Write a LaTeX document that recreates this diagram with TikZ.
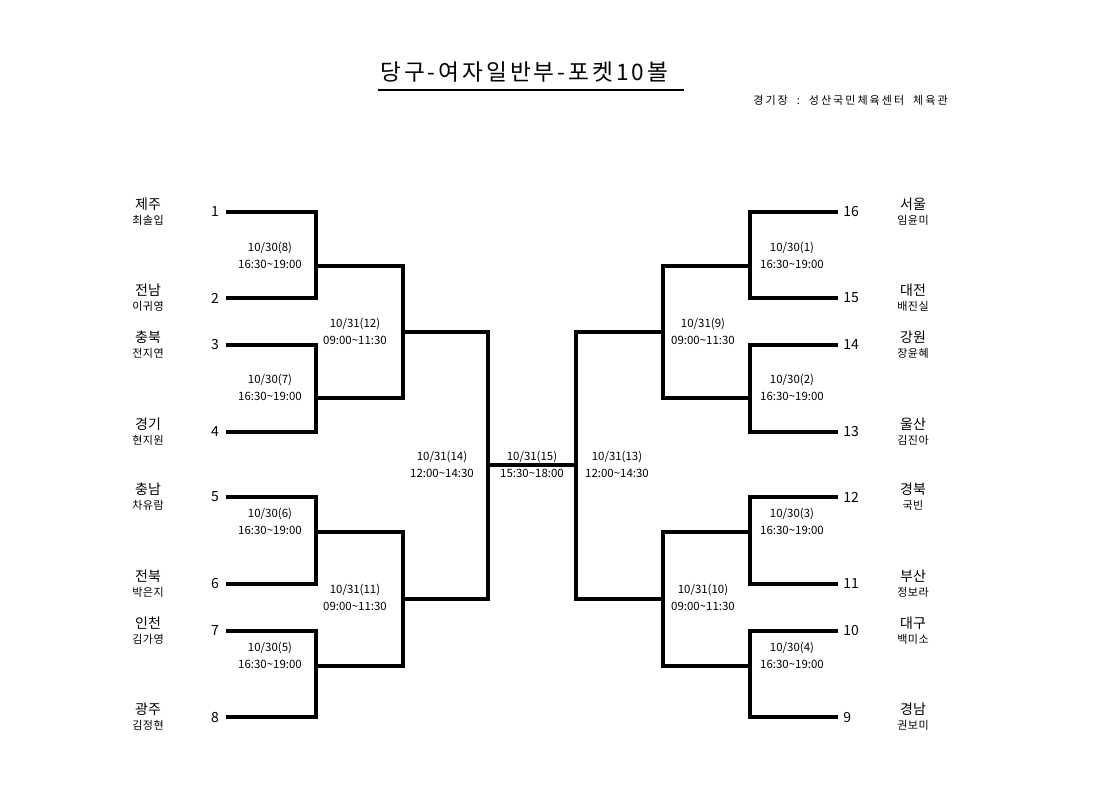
\documentclass[tikz,border=0pt]{standalone}
\usepackage{fontspec}
\setmainfont{Noto Sans CJK KR}
\begin{document}
\begin{tikzpicture}[x=0.75pt,y=-0.75pt,
  bk/.style={line width=3pt, line join=miter},
  fin/.style={line width=2.3pt},
  seed/.style={font=\fontsize{10.5}{12}\selectfont, inner sep=0pt},
  prov/.style={font=\fontsize{10.5}{12}\selectfont, inner sep=0pt},
  pname/.style={font=\fontsize{8.3}{10}\selectfont\addfontfeature{LetterSpace=4}, inner sep=0pt},
  sched/.style={font=\fontsize{8.6}{12.75}\selectfont, align=center, inner sep=0pt},
  ttl/.style={font=\fontsize{17}{20}\selectfont\addfontfeature{LetterSpace=13}, inner sep=0pt},
  sub/.style={font=\fontsize{8.3}{10}\selectfont\addfontfeature{LetterSpace=18}, inner sep=0pt}]
\useasboundingbox (0,0) rectangle (1120,792);
% title
\node[ttl, anchor=west] (title) at (380,72) {당구-여자일반부-포켓10볼};
\coordinate (ulA) at (378,90);
\coordinate (ulB) at (684,90);
\draw[line width=1.1pt] (ulA) -- (ulB);
\node[sub, anchor=east] (venue) at (948,100) {경기장\ \ :\ \ 성산국민체육센터\ \ 체육관};

% ---------- left side first round ----------
\foreach \i/\ya/\yb/\ym/\na/\nb/\pa/\qa/\pb/\qb/\mt in {
  a/212/298/266/1/2/제주/최솔입/전남/이귀영/8,
  b/345/432/398/3/4/충북/전지연/경기/현지원/7,
  c/497/584/532/5/6/충남/차유람/전북/박은지/6,
  d/631/717/666/7/8/인천/김가영/광주/김정현/5}{
  \coordinate (L\i1) at (226,\ya);
  \coordinate (L\i2) at (316,\ya);
  \coordinate (L\i3) at (316,\yb);
  \coordinate (L\i4) at (226,\yb);
  \coordinate (L\i m) at (316,\ym);
  \draw[bk] (L\i1) -- (L\i2) -- (L\i3) -- (L\i4);
  \node[seed] (Ln\na) at (215,\ya) {\na};
  \node[seed] (Ln\nb) at (215,\yb) {\nb};
  \node[prov] (Lp\na) at (148,\ya-8) {\pa};
  \node[pname] (Lq\na) at (148,\ya+8) {\qa};
  \node[prov] (Lp\nb) at (148,\yb-8) {\pb};
  \node[pname] (Lq\nb) at (148,\yb+8) {\qb};
  \node[sched] (Ls\i) at (270,\ym-11) {10/30(\mt)\\16:30\textasciitilde19:00};
}
% ---------- right side first round ----------
\foreach \i/\ya/\yb/\ym/\na/\nb/\pa/\qa/\pb/\qb/\mt in {
  a/212/298/266/16/15/서울/임윤미/대전/배진실/1,
  b/345/432/398/14/13/강원/장윤혜/울산/김진아/2,
  c/497/584/532/12/11/경북/국빈/부산/정보라/3,
  d/631/717/666/10/9/대구/백미소/경남/권보미/4}{
  \coordinate (R\i1) at (838,\ya);
  \coordinate (R\i2) at (750,\ya);
  \coordinate (R\i3) at (750,\yb);
  \coordinate (R\i4) at (838,\yb);
  \coordinate (R\i m) at (750,\ym);
  \draw[bk] (R\i1) -- (R\i2) -- (R\i3) -- (R\i4);
  \node[seed, anchor=west] (Rn\na) at (843,\ya) {\na};
  \node[seed, anchor=west] (Rn\nb) at (843,\yb) {\nb};
  \node[prov] (Rp\na) at (913,\ya-8) {\pa};
  \node[pname] (Rq\na) at (913,\ya+8) {\qa};
  \node[prov] (Rp\nb) at (913,\yb-8) {\pb};
  \node[pname] (Rq\nb) at (913,\yb+8) {\qb};
  \node[sched] (Rs\i) at (792,\ym-11) {10/30(\mt)\\16:30\textasciitilde19:00};
}

% ---------- second round ----------
\coordinate (L2at) at (403,266);
\coordinate (L2ab) at (403,398);
\coordinate (L2am) at (403,332);
\coordinate (L2bt) at (403,532);
\coordinate (L2bb) at (403,666);
\coordinate (L2bm) at (403,599);
\draw[bk] (Lam) -- (L2at) -- (L2ab) -- (Lbm);
\draw[bk] (Lcm) -- (L2bt) -- (L2bb) -- (Ldm);
\node[sched] (L2sa) at (355,331) {10/31(12)\\09:00\textasciitilde11:30};
\node[sched] (L2sb) at (355,597) {10/31(11)\\09:00\textasciitilde11:30};

\coordinate (R2at) at (663,266);
\coordinate (R2ab) at (663,398);
\coordinate (R2am) at (663,332);
\coordinate (R2bt) at (663,532);
\coordinate (R2bb) at (663,666);
\coordinate (R2bm) at (663,599);
\draw[bk] (Ram) -- (R2at) -- (R2ab) -- (Rbm);
\draw[bk] (Rcm) -- (R2bt) -- (R2bb) -- (Rdm);
\node[sched] (R2sa) at (703,331) {10/31(9)\\09:00\textasciitilde11:30};
\node[sched] (R2sb) at (703,597) {10/31(10)\\09:00\textasciitilde11:30};

% ---------- semifinals ----------
\coordinate (L3t) at (488,332);
\coordinate (L3b) at (488,599);
\coordinate (L3m) at (488,465);
\draw[bk] (L2am) -- (L3t) -- (L3b) -- (L2bm);
\coordinate (R3t) at (576,332);
\coordinate (R3b) at (576,599);
\coordinate (R3m) at (576,465);
\draw[bk] (R2am) -- (R3t) -- (R3b) -- (R2bm);
\node[sched] (L3s) at (442,464) {10/31(14)\\12:00\textasciitilde14:30};
\node[sched] (R3s) at (617,464) {10/31(13)\\12:00\textasciitilde14:30};

% ---------- final ----------
\draw[fin] (L3m) -- (R3m);
\node[sched] (Fs) at (532,464) {10/31(15)\\15:30\textasciitilde18:00};
\end{tikzpicture}
\end{document}
